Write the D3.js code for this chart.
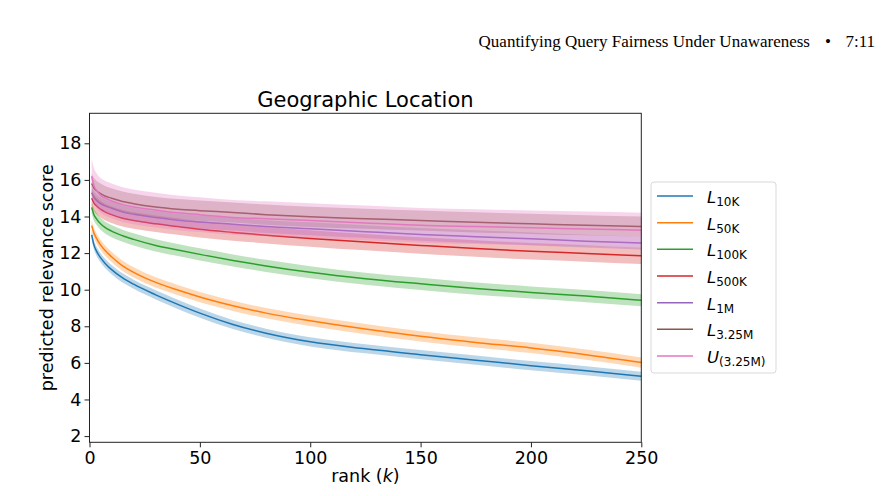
<!DOCTYPE html>
<html lang="en">
<head>
  <meta charset="UTF-8">
  <title>Geographic Location</title>
  <script src="https://d3js.org/d3.v7.min.js"></script>
  <style>
    body { margin: 0; background: #fff; }
    svg { display: block; }
    text { font-family: "DejaVu Sans", sans-serif; fill: #000; }
    .hdr { font-family: "Liberation Serif", serif; }
  </style>
</head>
<body>
<svg width="889" height="496"></svg>
<script>
const rank = [1, 2, 3, 5, 7, 10, 15, 20, 30, 40, 50, 65, 80, 100, 125, 150, 175, 200, 225, 250];

const l10k  = [13.0, 12.45, 12.15, 11.75, 11.45, 11.1, 10.65, 10.3, 9.72, 9.2, 8.72, 8.1, 7.62, 7.15, 6.77, 6.45, 6.15, 5.85, 5.57, 5.27];
const l50k  = [13.5, 13.1, 12.85, 12.45, 12.15, 11.8, 11.3, 10.95, 10.4, 9.98, 9.6, 9.12, 8.72, 8.3, 7.85, 7.45, 7.12, 6.82, 6.45, 6.02];
const l100k = [14.5, 14.1, 13.9, 13.6, 13.4, 13.2, 12.95, 12.75, 12.42, 12.17, 11.93, 11.6, 11.3, 10.95, 10.6, 10.32, 10.06, 9.85, 9.65, 9.42];
const l500k = [15.0, 14.75, 14.6, 14.4, 14.25, 14.1, 13.9, 13.78, 13.6, 13.45, 13.3, 13.13, 12.98, 12.8, 12.6, 12.42, 12.25, 12.1, 11.98, 11.85];
const l1m   = [15.3, 15.05, 14.9, 14.7, 14.58, 14.45, 14.25, 14.12, 13.95, 13.8, 13.7, 13.58, 13.45, 13.33, 13.17, 13.02, 12.9, 12.78, 12.65, 12.55];
const l325m = [15.8, 15.55, 15.42, 15.25, 15.12, 15.0, 14.82, 14.7, 14.52, 14.4, 14.32, 14.22, 14.1, 13.98, 13.88, 13.78, 13.68, 13.6, 13.52, 13.45];
const u325m = [16.2, 15.7, 15.45, 15.15, 15.0, 14.85, 14.65, 14.52, 14.35, 14.2, 14.1, 13.95, 13.88, 13.78, 13.65, 13.52, 13.45, 13.38, 13.32, 13.25];

// half width of the shaded band around each curve
const spread = [0.25, 0.28, 0.33, 0.45, 0.35, 0.55, 0.95];

const seriesNames = ["L|10K", "L|50K", "L|100K", "L|500K", "L|1M", "L|3.25M", "U|(3.25M)"];
const colors = ["#1f77b4", "#ff7f0e", "#2ca02c", "#d62728", "#9467bd", "#8c564b", "#e377c2"];

const yTicks = [2, 4, 6, 8, 10, 12, 14, 16, 18];
const xTicks = [0, 50, 100, 150, 200, 250];

const series = [l10k, l50k, l100k, l500k, l1m, l325m, u325m];

const svg = d3.select("svg");
const pL = 89.5, pR = 641.3, pT = 113.3, pB = 442.3;

const x = d3.scaleLinear().domain([0, 250]).range([pL, pR]);
const y = d3.scaleLinear().domain([1.66, 19.64]).range([pB, pT]);

// header line from the paper page
svg.append("text").attr("class", "hdr")
  .attr("x", 810).attr("y", 47).attr("text-anchor", "end")
  .attr("font-size", 17).text("Quantifying Query Fairness Under Unawareness");
svg.append("text").attr("class", "hdr")
  .attr("x", 828).attr("y", 47).attr("text-anchor", "middle")
  .attr("font-size", 17).text("•");
svg.append("text").attr("class", "hdr")
  .attr("x", 875).attr("y", 47).attr("text-anchor", "end")
  .attr("font-size", 17).text("7:11");

svg.append("text")
  .attr("x", (pL + pR) / 2).attr("y", 107)
  .attr("text-anchor", "middle").attr("font-size", 21)
  .text("Geographic Location");

const area = (s) => d3.area()
  .curve(d3.curveMonotoneX)
  .x((d, i) => x(rank[i]))
  .y0(d => y(d - s))
  .y1(d => y(d + s));

const line = d3.line()
  .curve(d3.curveMonotoneX)
  .x((d, i) => x(rank[i]))
  .y(d => y(d));

const plot = svg.append("g");
series.forEach((vals, i) => {
  plot.append("path")
    .attr("d", line(vals))
    .attr("fill", "none")
    .attr("stroke", colors[i])
    .attr("stroke-width", 1.5);
  plot.append("path")
    .attr("d", area(spread[i])(vals))
    .attr("fill", colors[i])
    .attr("fill-opacity", 0.3);
});

// axes
const yAxis = svg.append("g")
  .attr("transform", `translate(${pL},0)`)
  .call(d3.axisLeft(y).tickValues(yTicks).tickSize(5).tickPadding(3));
const xAxis = svg.append("g")
  .attr("transform", `translate(0,${pB})`)
  .call(d3.axisBottom(x).tickValues(xTicks).tickSize(5).tickPadding(4));

[yAxis, xAxis].forEach(a => {
  a.select(".domain").remove();
  a.selectAll("text").attr("font-size", 17.5).attr("fill", "#000")
    .style("font-family", "DejaVu Sans");
  a.selectAll("line").attr("stroke", "#222");
});

svg.append("rect")
  .attr("x", pL).attr("y", pT)
  .attr("width", pR - pL).attr("height", pB - pT)
  .attr("fill", "none").attr("stroke", "#222").attr("stroke-width", 1);

svg.append("text")
  .attr("transform", `translate(53,${(pT + pB) / 2}) rotate(-90)`)
  .attr("text-anchor", "middle").attr("font-size", 17.5)
  .text("predicted relevance score");

const xl = svg.append("text")
  .attr("x", (pL + pR) / 2).attr("y", 482)
  .attr("text-anchor", "middle").attr("font-size", 17.5);
xl.append("tspan").text("rank (");
xl.append("tspan").attr("font-style", "italic").text("k");
xl.append("tspan").text(")");

// legend
const lg = svg.append("g");
lg.append("rect")
  .attr("x", 651).attr("y", 182).attr("width", 125).attr("height", 191)
  .attr("rx", 3).attr("fill", "#fff").attr("fill-opacity", 0.8)
  .attr("stroke", "#d9d9d9");

seriesNames.forEach((nm, i) => {
  const [main, sub] = nm.split("|");
  const ly = 196 + i * 26.67;
  lg.append("line")
    .attr("x1", 657).attr("x2", 693).attr("y1", ly).attr("y2", ly)
    .attr("stroke", colors[i]).attr("stroke-width", 1.5);
  const t = lg.append("text").attr("x", 707).attr("y", ly + 7).attr("font-size", 16.5);
  t.append("tspan").attr("font-style", "italic").text(main);
  t.append("tspan").attr("font-size", 12).attr("dy", 3).text(sub);
});
</script>
</body>
</html>
